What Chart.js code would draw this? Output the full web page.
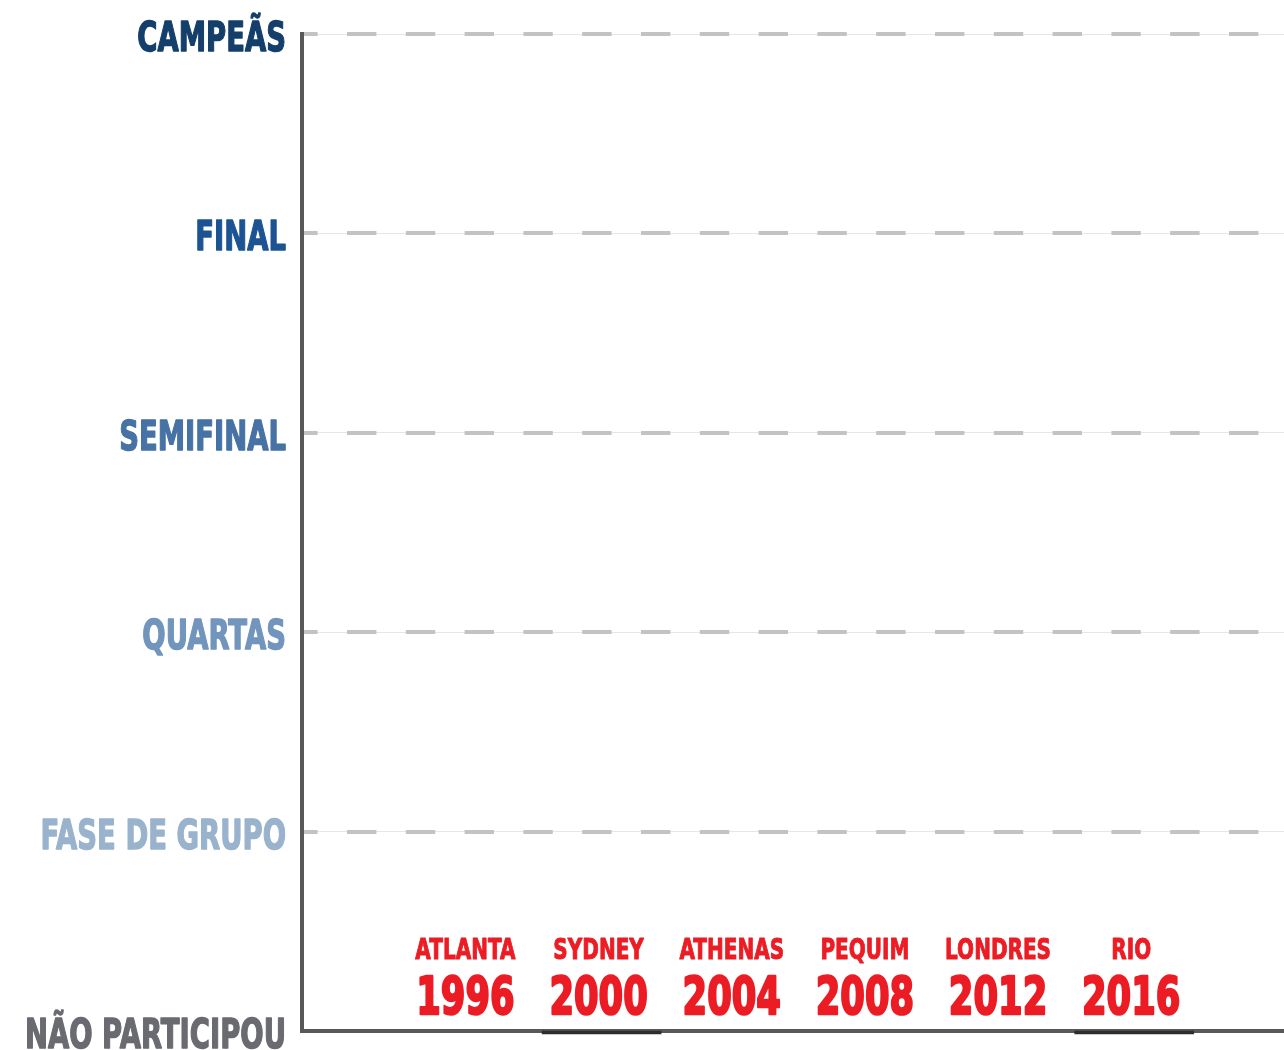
<!DOCTYPE html>
<html>
<head>
<meta charset="utf-8">
<title>Resultados olímpicos</title>
<script src="https://cdn.jsdelivr.net/npm/chart.js@4.4.0/dist/chart.umd.min.js"></script>
<style>
  html, body { margin: 0; padding: 0; background: #fff; }
  canvas { display: block; }
</style>
</head>
<body>
<canvas id="myChart" width="1284" height="1050"></canvas>
<script>
const anos = [1996, 2000, 2004, 2008, 2012, 2016];
const cidades = ['ATLANTA', 'SYDNEY', 'ATHENAS', 'PEQUIM', 'LONDRES', 'RIO'];
const niveis = ['NÃO PARTICIPOU', 'FASE DE GRUPO', 'QUARTAS', 'SEMIFINAL', 'FINAL', 'CAMPEÃS'];
const coresNiveis = ['#6a6b70', '#9ab3cd', '#7195bc', '#4672a5', '#1c5493', '#143f6b'];
const marcados = [null, 0, null, null, null, 0]; // traços escuros sobre o eixo

const fonte = "'DejaVu Sans', sans-serif";
Chart.defaults.font.family = fonte;

// texto condensado e mais pesado (não há fonte condensada instalada)
function textoEstreito(ctx, texto, x, y, escala, traco) {
    ctx.save();
    ctx.translate(x, y);
    ctx.scale(escala, 1);
    ctx.fillText(texto, 0, 0);
    if (traco) {
        ctx.strokeStyle = ctx.fillStyle;
        ctx.lineWidth = traco;
        ctx.lineJoin = 'round';
        ctx.strokeText(texto, 0, 0);
    }
    ctx.restore();
}

// rótulos do eixo y e nomes das cidades / anos
const rotulos = {
    id: 'rotulos',
    afterDraw(chart) {
        const ctx = chart.ctx;
        const x = chart.scales.x;
        const y = chart.scales.y;
        const area = chart.chartArea;
        ctx.save();
        ctx.textBaseline = 'alphabetic';

        ctx.textAlign = 'right';
        ctx.font = 'bold 41px ' + fonte;
        niveis.forEach((nome, i) => {
            ctx.fillStyle = coresNiveis[i];
            textoEstreito(ctx, nome, area.left - 16, y.getPixelForValue(i) + 17, 0.67, 1.5);
        });

        ctx.textAlign = 'center';
        ctx.fillStyle = '#ec1c24';
        anos.forEach((ano, i) => {
            const px = x.getPixelForValue(ano) - 3;
            ctx.font = 'bold 28px ' + fonte;
            textoEstreito(ctx, cidades[i], px, area.bottom - 72.5, 0.715, 1);
            ctx.font = 'bold 52px ' + fonte;
            textoEstreito(ctx, String(ano), px, area.bottom - 17.5, 0.68, 2.5);
        });
        ctx.restore();
    }
};

function createChart() {
    const ctx = document.getElementById('myChart').getContext('2d');
    const myChart = new Chart(ctx, {
        type: 'bar',
        data: {
            datasets: [{
                label: 'Destaque',
                data: anos.map((a, i) => ({ x: a, y: marcados[i] })),
                base: -0.015,
                barThickness: 119,
                backgroundColor: '#2d2d2d',
                borderWidth: 0,
                clip: false
            }]
        },
        options: {
            responsive: false,
            animation: false,
            events: [],
            layout: { padding: { top: 34, right: 0, left: 0, bottom: 0 } },
            plugins: {
                legend: { display: false },
                tooltip: { enabled: false }
            },
            scales: {
                x: {
                    type: 'linear',
                    min: 1991,
                    max: 2020.5,
                    offset: false,
                    ticks: { display: false },
                    grid: { display: false },
                    border: { color: '#58585a', width: 4 },
                    afterFit: s => { s.height = 19; }
                },
                y: {
                    type: 'linear',
                    position: 'left',
                    min: 0,
                    max: 5,
                    ticks: { display: false, stepSize: 1 },
                    grid: {
                        drawTicks: false,
                        lineWidth: 1,
                        color: c => c.tick && c.tick.value === 0 ? 'rgba(0,0,0,0)' : '#e6e6e6'
                    },
                    border: { color: '#58585a', width: 4 },
                    afterFit: s => { s.width = 302; s.paddingTop = 0; s.paddingBottom = 0; }
                },
                yTracos: {
                    type: 'linear',
                    position: 'left',
                    min: 0,
                    max: 5,
                    ticks: { display: false, stepSize: 1 },
                    grid: {
                        drawTicks: false,
                        lineWidth: 4,
                        color: c => c.tick && c.tick.value === 0 ? 'rgba(0,0,0,0)' : '#c3c3c3'
                    },
                    border: { display: false, dash: [29.4, 29.4], dashOffset: 13.8 },
                    afterFit: s => { s.width = 0; s.paddingTop = 0; s.paddingBottom = 0; }
                }
            }
        },
        plugins: [rotulos]
    });
}

document.addEventListener('DOMContentLoaded', () => {
    createChart();
});
</script>
</body>
</html>
